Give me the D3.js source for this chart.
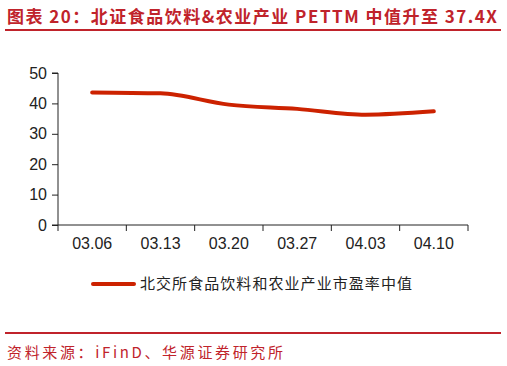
<!DOCTYPE html>
<html lang="zh">
<head>
<meta charset="UTF-8">
<script src="https://d3js.org/d3.v7.min.js"></script>
<style>
  body { margin: 0; background: #fff; }
  svg text { font-family: Arial, "Liberation Sans", sans-serif; }
</style>
</head>
<body>
<svg id="chart" width="507" height="366"></svg>
<script>
const dates = ["03.06", "03.13", "03.20", "03.27", "04.03", "04.10"];
const peValues = [43.6, 43.3, 39.6, 38.2, 36.3, 37.4];
const yTicks = [0, 10, 20, 30, 40, 50];
const seriesName = "北交所食品饮料和农业产业市盈率中值";
const titleText = "图表 20：北证食品饮料&农业产业 PETTM 中值升至 37.4X";
const sourceText = "资料来源：iFinD、华源证券研究所";

const svg = d3.select("#chart");
const red = "#c0232b";
const cjk = "'Noto Sans CJK SC', sans-serif";

// title + rule
svg.append("text")
    .attr("x", 7).attr("y", 23)
    .attr("fill", red)
    .attr("font-size", "17px")
    .attr("font-weight", "bold")
    .attr("textLength", 490)
    .attr("lengthAdjust", "spacing")
    .style("font-family", cjk)
    .text(titleText);
svg.append("line")
    .attr("x1", 5).attr("x2", 501).attr("y1", 30).attr("y2", 30)
    .attr("stroke", red).attr("stroke-width", 2);

const margin = { left: 58, top: 73, right: 39, bottom: 141 };
const w = 507 - margin.left - margin.right;
const h = 366 - margin.top - margin.bottom;

const x = d3.scaleBand().domain(dates).range([0, w]);
const y = d3.scaleLinear().domain([0, 50]).range([h, 0]);

const g = svg.append("g").attr("transform", `translate(${margin.left},${margin.top})`);

const yAxis = g.append("g")
    .call(d3.axisLeft(y).tickValues(yTicks).tickSize(6).tickPadding(5));
const xAxis = g.append("g")
    .attr("transform", `translate(0,${h})`)
    .call(d3.axisBottom(x).tickSize(0).tickPadding(13));

// ticks on band edges
xAxis.selectAll(".edge")
    .data(d3.range(dates.length + 1))
    .enter().append("line")
    .attr("x1", i => i * x.bandwidth())
    .attr("x2", i => i * x.bandwidth())
    .attr("y1", 0).attr("y2", 6)
    .attr("stroke", "#222");

[yAxis, xAxis].forEach(a => {
    a.selectAll(".domain").attr("stroke", "#222");
    a.selectAll(".tick line").attr("stroke", "#222");
    a.selectAll("text").attr("font-size", "16px").attr("fill", "#222");
});
xAxis.select(".domain").attr("d", `M0,0H${w}`);
yAxis.select(".domain").attr("d", `M-6,0H0V${h}H-6`);

const line = d3.line()
    .x((d, i) => x(dates[i]) + x.bandwidth() / 2)
    .y(d => y(d))
    .curve(d3.curveMonotoneX);

g.append("path")
    .datum(peValues)
    .attr("fill", "none")
    .attr("stroke", "#cc2200")
    .attr("stroke-width", 4)
    .attr("stroke-linecap", "round")
    .attr("d", line);

// legend
svg.append("line")
    .attr("x1", 93).attr("x2", 134).attr("y1", 284).attr("y2", 284)
    .attr("stroke", "#cc2200").attr("stroke-width", 4).attr("stroke-linecap", "round");
svg.append("text")
    .attr("x", 140).attr("y", 289)
    .attr("font-size", "15px")
    .attr("fill", "#222")
    .attr("textLength", 272)
    .attr("lengthAdjust", "spacing")
    .style("font-family", cjk)
    .text(seriesName);

// footer
svg.append("line")
    .attr("x1", 5).attr("x2", 501).attr("y1", 333).attr("y2", 333)
    .attr("stroke", red).attr("stroke-width", 2);
svg.append("text")
    .attr("x", 7).attr("y", 358)
    .attr("fill", red)
    .attr("font-size", "15px")
    .attr("textLength", 276)
    .attr("lengthAdjust", "spacing")
    .style("font-family", cjk)
    .text(sourceText);
</script>
</body>
</html>
